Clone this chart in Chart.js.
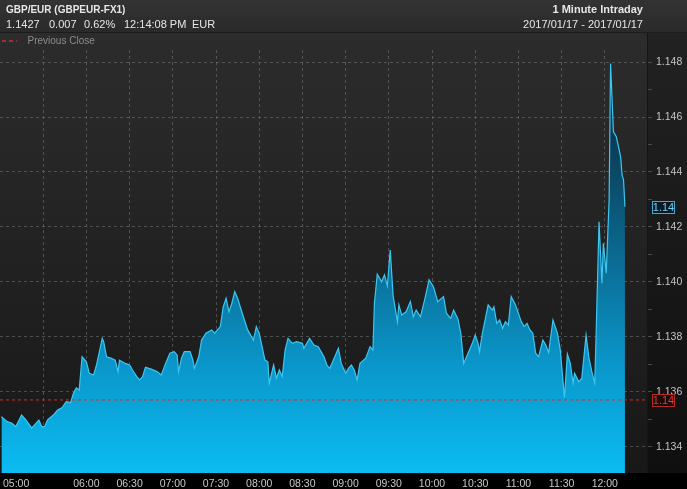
<!DOCTYPE html>
<html><head><meta charset="utf-8">
<script src="https://cdn.jsdelivr.net/npm/chart.js@4.4.0/dist/chart.umd.min.js"></script>
<style>
html,body{margin:0;padding:0;background:#000;width:687px;height:489px;overflow:hidden;font-family:"Liberation Sans",Arial,sans-serif}
#wrap{position:relative;width:687px;height:489px}
canvas{position:absolute;left:0;top:0}
.t{position:absolute;white-space:pre;color:#e6e6e6;font-size:11px;line-height:13px}
.b{font-weight:bold}
</style></head><body>
<div id="wrap">
<canvas id="c" width="687" height="489"></canvas>
<div class="t b" style="left:6px;top:4px;font-size:10px;line-height:12px">GBP/EUR (GBPEUR-FX1)</div>
<div class="t" style="left:6px;top:18px">1.1427</div>
<div class="t" style="left:49px;top:18px">0.007</div>
<div class="t" style="left:84px;top:18px">0.62%</div>
<div class="t" style="left:124px;top:18px">12:14:08 PM</div>
<div class="t" style="left:192px;top:18px">EUR</div>
<div class="t b" style="right:44px;top:2.5px">1 Minute Intraday</div>
<div class="t" style="right:44px;top:18.4px">2017/01/17 - 2017/01/17</div>
<div class="t" style="left:27.5px;top:34.5px;font-size:10px;line-height:12px;color:#8c8c8c">Previous Close</div>
</div>
<script>
// ---- data (1 minute intraday, GBP/EUR, 2017/01/17) ----
const times = [
"05:01","05:05","05:08","05:11","05:15","05:18","05:22","05:24","05:27","05:29",
"05:31","05:33","05:37","05:40","05:43","05:46","05:49","05:51","05:53","05:55",
"05:57","06:00","06:02","06:05","06:07","06:11","06:12","06:14","06:17","06:20",
"06:22","06:23","06:27","06:30","06:32","06:35","06:37","06:39","06:41","06:45",
"06:49","06:52","06:55","06:58","07:01","07:03","07:04","07:06","07:08","07:12",
"07:14","07:15","07:18","07:20","07:23","07:27","07:29","07:33","07:35","07:37",
"07:39","07:41","07:43","07:45","07:49","07:52","07:56","07:58","08:00","08:02",
"08:04","08:06","08:07","08:10","08:12","08:14","08:16","08:18","08:20","08:23",
"08:26","08:30","08:31","08:35","08:38","08:41","08:45","08:47","08:49","08:51",
"08:55","08:57","09:00","09:02","09:04","09:06","09:08","09:10","09:14","09:17",
"09:19","09:20","09:22","09:25","09:27","09:29","09:31","09:33","09:36","09:37",
"09:39","09:42","09:45","09:47","09:49","09:52","09:55","09:58","10:01","10:04",
"10:08","10:10","10:13","10:15","10:18","10:20","10:22","10:24","10:28","10:30",
"10:32","10:33","10:35","10:39","10:42","10:43","10:45","10:47","10:49","10:51",
"10:53","10:55","10:58","11:00","11:02","11:04","11:06","11:08","11:10","11:12",
"11:14","11:17","11:19","11:21","11:24","11:27","11:29","11:32","11:34","11:36",
"11:38","11:39","11:42","11:44","11:47","11:49","11:51","11:53","11:54","11:56",
"11:58","11:59","12:01","12:03","12:04","12:06","12:08","12:11","12:12","12:13",
"12:14"];
const prices = [
1.13509,1.13491,1.13486,1.13473,1.13515,1.13497,1.13468,1.13479,1.13497,1.13473,
1.13473,1.13497,1.13515,1.13533,1.13541,1.13564,1.13560,1.13594,1.13614,1.13606,
1.13727,1.13709,1.13667,1.13661,1.13697,1.13794,1.13782,1.13727,1.13722,1.13715,
1.13673,1.13715,1.13703,1.13697,1.13679,1.13655,1.13643,1.13655,1.13689,1.13682,
1.13673,1.13661,1.13703,1.13740,1.13746,1.13734,1.13673,1.13722,1.13746,1.13746,
1.13715,1.13685,1.13727,1.13788,1.13813,1.13825,1.13813,1.13837,1.13909,1.13940,
1.13891,1.13922,1.13964,1.13940,1.13873,1.13825,1.13788,1.13837,1.13813,1.13764,
1.13715,1.13709,1.13631,1.13697,1.13649,1.13679,1.13655,1.13752,1.13794,1.13776,
1.13782,1.13776,1.13758,1.13794,1.13770,1.13764,1.13727,1.13697,1.13685,1.13709,
1.13758,1.13703,1.13667,1.13685,1.13697,1.13679,1.13643,1.13703,1.13722,1.13764,
1.13752,1.13922,1.14028,1.14000,1.14025,1.13985,1.14116,1.13948,1.13855,1.13916,
1.13879,1.13891,1.13928,1.13873,1.13897,1.13873,1.13937,1.14007,1.13982,1.13928,
1.13946,1.13886,1.13867,1.13897,1.13865,1.13813,1.13703,1.13727,1.13776,1.13806,
1.13776,1.13746,1.13813,1.13916,1.13897,1.13909,1.13849,1.13861,1.13831,1.13855,
1.13843,1.13946,1.13916,1.13885,1.13855,1.13837,1.13849,1.13825,1.13813,1.13740,
1.13727,1.13788,1.13770,1.13743,1.13861,1.13815,1.13755,1.13579,1.13737,1.13704,
1.13631,1.13667,1.13636,1.13649,1.13806,1.13722,1.13673,1.13631,1.13813,1.14219,
1.13995,1.14140,1.14031,1.14298,1.14795,1.14546,1.14528,1.14455,1.14389,1.14371,
1.14273];
const previousClose = 1.1357;
const xGridTimes = ["05:30","06:00","06:30","07:00","07:30","08:00","08:30","09:00","09:30","10:00","10:30","11:00","11:30","12:00"];
const xTickLabels = ["05:00","06:00","06:30","07:00","07:30","08:00","08:30","09:00","09:30","10:00","10:30","11:00","11:30","12:00"];
const yTickLabels = ["1.134","1.136","1.138","1.140","1.142","1.144","1.146","1.148"];
const sessionStart = "05:00", sessionEnd = "12:30";
const yMin = 1.13304, yMax = 1.14844;

// ---- helpers ----
const toMin = s => { const [h,m] = s.split(':').map(Number); return h*60+m; };
const t0 = toMin(sessionStart);
const mins = s => toMin(s) - t0;
const FONT = '"Liberation Sans", Arial, sans-serif';
Chart.defaults.font.family = FONT;

const series = times.map((t,i)=>({x: mins(t), y: prices[i]}));
const lastPrice = prices[prices.length-1];

const bgPlugin = {
  id:'bg',
  beforeDraw(chart){
    const {ctx, chartArea:a, width, height} = chart;
    ctx.save();
    ctx.fillStyle='#000'; ctx.fillRect(0,0,width,height);
    let g = ctx.createLinearGradient(0,0,0,32);
    g.addColorStop(0,'#333333'); g.addColorStop(1,'#2a2a2a');
    ctx.fillStyle=g; ctx.fillRect(0,0,width,32);
    ctx.fillStyle='#1c1c1c'; ctx.fillRect(0,32,width,1);
    g = ctx.createLinearGradient(0,33,0,a.bottom);
    g.addColorStop(0,'#2c2c2c'); g.addColorStop(1,'#181818');
    ctx.fillStyle=g; ctx.fillRect(0,33,a.right,a.bottom-33);
    g = ctx.createLinearGradient(0,33,0,a.bottom);
    g.addColorStop(0,'#222222'); g.addColorStop(1,'#0f0f0f');
    ctx.fillStyle=g; ctx.fillRect(a.right,33,width-a.right,a.bottom-33);
    ctx.fillStyle='#151515'; ctx.fillRect(Math.round(a.right)-1,33,1,a.bottom-33);
    // legend dashes
    ctx.strokeStyle='#c0302a'; ctx.lineWidth=1.3; ctx.setLineDash([4,3]);
    ctx.beginPath(); ctx.moveTo(2,41); ctx.lineTo(17,41); ctx.stroke();
    ctx.restore();
  },
  afterDraw(chart){
    const {ctx} = chart;
    const xs = chart.scales.x, ys = chart.scales.y;
    ctx.save();
    ctx.font = '10.5px '+FONT;
    ctx.fillStyle = '#c8c8c8';
    ctx.textBaseline = 'alphabetic';
    xTickLabels.forEach(l=>{
      const px = xs.getPixelForValue(mins(l));
      const w = ctx.measureText(l).width;
      let x = px - w/2;
      if (x < 3) x = 3;
      ctx.fillText(l, x, 487);
    });
    const box = (v, stroke, fill, color) => {
      const py = Math.round(ys.getPixelForValue(v)) + 0.5;
      ctx.fillStyle = fill; ctx.fillRect(652, py-6.5, 23, 13);
      ctx.strokeStyle = stroke; ctx.lineWidth = 1; ctx.setLineDash([]);
      ctx.strokeRect(652.5, py-6, 22, 12);
      ctx.fillStyle = color; ctx.textAlign='center'; ctx.textBaseline='middle';
      ctx.font = '11px '+FONT;
      ctx.fillText(v.toFixed(2), 663.5, py+0.5);
    };
    box(lastPrice, '#3ea8d6', '#0b1a22', '#6ccff5');
    box(previousClose, '#b52a22', '#1b0c0b', '#de3a31');
    ctx.restore();
  }
};

const gridColor = 'rgba(125,125,125,0.5)';

new Chart(document.getElementById('c'), {
  type:'line',
  data:{
    datasets:[
      {
        label:'Previous Close',
        data:[{x:0,y:previousClose},{x:mins(sessionEnd),y:previousClose}],
        borderColor:'#c8322a', borderWidth:1, borderDash:[3,3],
        pointRadius:0, fill:false
      },
      {
        label:'GBP/EUR',
        data:series,
        borderColor:'#3cc7f2', borderWidth:1.2,
        pointRadius:0, tension:0,
        fill:'start',
        backgroundColor:(c)=>{
          const a = c.chart.chartArea;
          if(!a) return '#0a8fc0';
          const g = c.chart.ctx.createLinearGradient(0,a.top,0,a.bottom);
          g.addColorStop(0,'#0c2432');
          g.addColorStop(0.2,'#0b3a52');
          g.addColorStop(0.5,'#0a6c94');
          g.addColorStop(0.75,'#0a97cb');
          g.addColorStop(1,'#0bbcf2');
          return g;
        }
      }
    ]
  },
  options:{
    responsive:false, animation:false, devicePixelRatio:1,
    layout:{padding:{left:0,right:0,top:50,bottom:16}},
    plugins:{legend:{display:false}, tooltip:{enabled:false}},
    scales:{
      x:{
        type:'linear', min:0, max:mins(sessionEnd),
        afterBuildTicks:(s)=>{ s.ticks = xGridTimes.map(t=>({value:mins(t)})); },
        ticks:{display:false},
        grid:{color:gridColor, drawTicks:false, lineWidth:1},
        border:{display:false, dash:[3,3]}
      },
      y:{
        type:'linear', position:'right', min:yMin, max:yMax,
        afterBuildTicks:(s)=>{
          const t=[];
          yTickLabels.forEach((l,i)=>{
            const v=parseFloat(l);
            t.push({value:v, major:true});
            if(i<yTickLabels.length-1){
              t.push({value:(v+parseFloat(yTickLabels[i+1]))/2, major:false});
            }
          });
          s.ticks=t;
        },
        afterFit:(s)=>{ s.width = 39; },
        ticks:{
          color:'#c4c4c4', font:{size:10.5}, padding:4,
          callback:function(v,i,ticks){ return ticks[i].major ? v.toFixed(3) : ''; }
        },
        grid:{
          color:(c)=> (c.tick && c.tick.major) ? gridColor : 'rgba(0,0,0,0)',
          tickColor:'#4a4a4a', tickLength:4, lineWidth:1
        },
        border:{display:false, dash:[3,3]}
      }
    }
  },
  plugins:[bgPlugin]
});
</script>
</body></html>
